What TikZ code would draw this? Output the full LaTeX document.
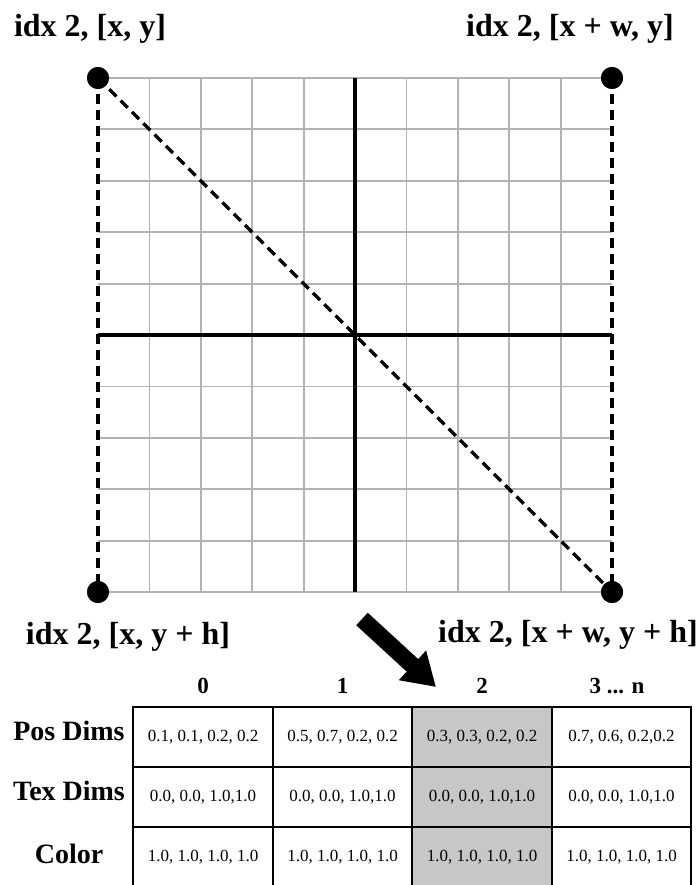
\documentclass[tikz,border=0pt]{standalone}
\usepackage{fontspec}
\setmainfont{Liberation Serif}
\usetikzlibrary{arrows.meta}
\begin{document}
\begin{tikzpicture}[x=1pt,y=-1pt,
  gridline/.style={draw=black!30, line width=1.8pt},
  axisline/.style={draw=black, line width=4pt},
  dashline/.style={draw=black, line width=3.3pt, dash pattern=on 10pt off 6pt},
  corner/.style={circle, fill=black, inner sep=0pt, minimum size=22pt},
  cornerlabel/.style={font=\fontsize{32}{36}\selectfont\bfseries, inner sep=0pt, anchor=base},
  cell/.style={draw=black, line width=2pt, minimum width=139.5pt, minimum height=60pt, inner sep=0pt, font=\fontsize{17}{19}\selectfont},
  shaded/.style={cell, fill=black!22},
  colhead/.style={font=\fontsize{23}{26}\selectfont\bfseries, inner sep=0pt, anchor=base},
  rowhead/.style={font=\fontsize{28}{31}\selectfont\bfseries, inner sep=0pt, anchor=base},
  bigarrow/.style={draw=black, line width=17pt, -{Triangle[width=38pt,length=32pt]}},
]
\clip (0,0) rectangle (699,885);
% grid
\foreach \i in {1,...,9} {
  \draw[gridline] ({98+51.4*\i},78) -- ({98+51.4*\i},592);
  \draw[gridline] (98,{78+51.4*\i}) -- (612,{78+51.4*\i});
}
\draw[gridline] (98,78) -- (612,78);
\draw[gridline] (98,592) -- (612,592);
\draw[axisline] (355,78) -- (355,592);
\draw[axisline] (98,335) -- (612,335);
% corners
\node[corner] (tl) at (98,78) {};
\node[corner] (tr) at (612,78) {};
\node[corner] (bl) at (98,592) {};
\node[corner] (br) at (612,592) {};
\draw[dashline] (tl.center) -- (bl.center);
\draw[dashline] (tr.center) -- (br.center);
\draw[dashline] (tl.center) -- (br.center);
\node[corner] at (tl) {};
\node[corner] at (tr) {};
\node[corner] at (bl) {};
\node[corner] at (br) {};
% labels
\node[cornerlabel] (ltl) at (90,37) {idx 2, [x, y]};
\node[cornerlabel] (ltr) at (570,37) {idx 2, [x + w, y]};
\node[cornerlabel] (lbl) at (128,644) {idx 2, [x, y + h]};
\node[cornerlabel] (lbr) at (568,642) {idx 2, [x + w, y + h]};
% arrow
\coordinate (atail) at (362,619);
\coordinate (ahead) at (436,687);
\draw[bigarrow] (atail) -- (ahead);
% table headers
\node[colhead] (h0) at (203,693) {0};
\node[colhead] (h1) at (342.5,693) {1};
\node[colhead] (h2) at (482,693) {2};
\node[colhead] (h3) at (617,693) {3 ... n};
\node[rowhead] (rpos) at (69,740) {Pos Dims};
\node[rowhead] (rtex) at (69,800) {Tex Dims};
\node[rowhead] (rcol) at (69,863) {Color};
% cells
\node[cell] (c00) at (203,737) {0.1, 0.1, 0.2, 0.2};
\node[cell] (c01) at (342.5,737) {0.5, 0.7, 0.2, 0.2};
\node[shaded] (c02) at (482,737) {0.3, 0.3, 0.2, 0.2};
\node[cell] (c03) at (621.5,737) {0.7, 0.6, 0.2,0.2};
\node[cell] (c10) at (203,797) {0.0, 0.0, 1.0,1.0};
\node[cell] (c11) at (342.5,797) {0.0, 0.0, 1.0,1.0};
\node[shaded] (c12) at (482,797) {0.0, 0.0, 1.0,1.0};
\node[cell] (c13) at (621.5,797) {0.0, 0.0, 1.0,1.0};
\node[cell] (c20) at (203,857) {1.0, 1.0, 1.0, 1.0};
\node[cell] (c21) at (342.5,857) {1.0, 1.0, 1.0, 1.0};
\node[shaded] (c22) at (482,857) {1.0, 1.0, 1.0, 1.0};
\node[cell] (c23) at (621.5,857) {1.0, 1.0, 1.0, 1.0};
\end{tikzpicture}
\end{document}
